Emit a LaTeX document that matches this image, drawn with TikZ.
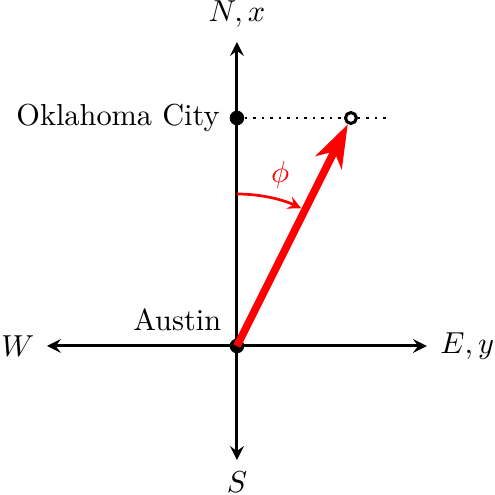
\documentclass[tikz,border=0pt]{standalone}
\usetikzlibrary{arrows,arrows.meta}
\begin{document}
\begin{tikzpicture}[x=0.88cm,y=0.88cm,
  axis/.style={line width=1pt,-stealth},
  dot/.style={circle,fill=black,inner sep=0pt,minimum size=4.8pt},
  odot/.style={circle,draw=black,line width=1pt,fill=white,inner sep=0pt,minimum size=3.6pt},
  lbl/.style={inner sep=0pt}]
\useasboundingbox (-3.118,-1.961) rectangle (3.395,4.553);
\coordinate (O) at (0,0);
\coordinate (Ntip) at (0,4);
\coordinate (Stip) at (0,-1.5);
\coordinate (Wtip) at (-2.5,0);
\coordinate (Etip) at (2.5,0);
\coordinate (dend) at (2,3);
\draw[axis] (O) -- (Ntip);
\draw[axis] (O) -- (Stip);
\draw[axis] (O) -- (Wtip);
\draw[axis] (O) -- (Etip);
\node[lbl] (nl) at (0,4.37) {$N,x$};
\node[lbl] (sl) at (0,-1.79) {$S$};
\node[lbl,anchor=east] (wl) at (-2.66,0) {$W$};
\node[lbl,anchor=west] (el) at (2.67,0) {$E,y$};
\node[dot] (okc) at (0,3) {};
\node[dot] (aus) at (O) {};
\node[lbl,anchor=east] (okcl) at (-0.22,3) {Oklahoma City};
\node[lbl,anchor=base east] (ausl) at (-0.2,0.21) {Austin};
\node[odot] (tgt) at (1.5,3) {};
\draw[thick,dotted] (okc) -- (tgt);
\draw[thick,dotted] (tgt) -- (dend);
\draw[red,line width=2.5pt,-{Stealth[length=14pt,width=9.5pt,inset=4pt]}] (aus.center) -- (tgt);
\draw[red,line width=0.9pt,-stealth] (0,2) arc[start angle=90,end angle=65,radius=2];
\node[red] (phi) at (0.57,2.25) {$\phi$};
\end{tikzpicture}
\end{document}
